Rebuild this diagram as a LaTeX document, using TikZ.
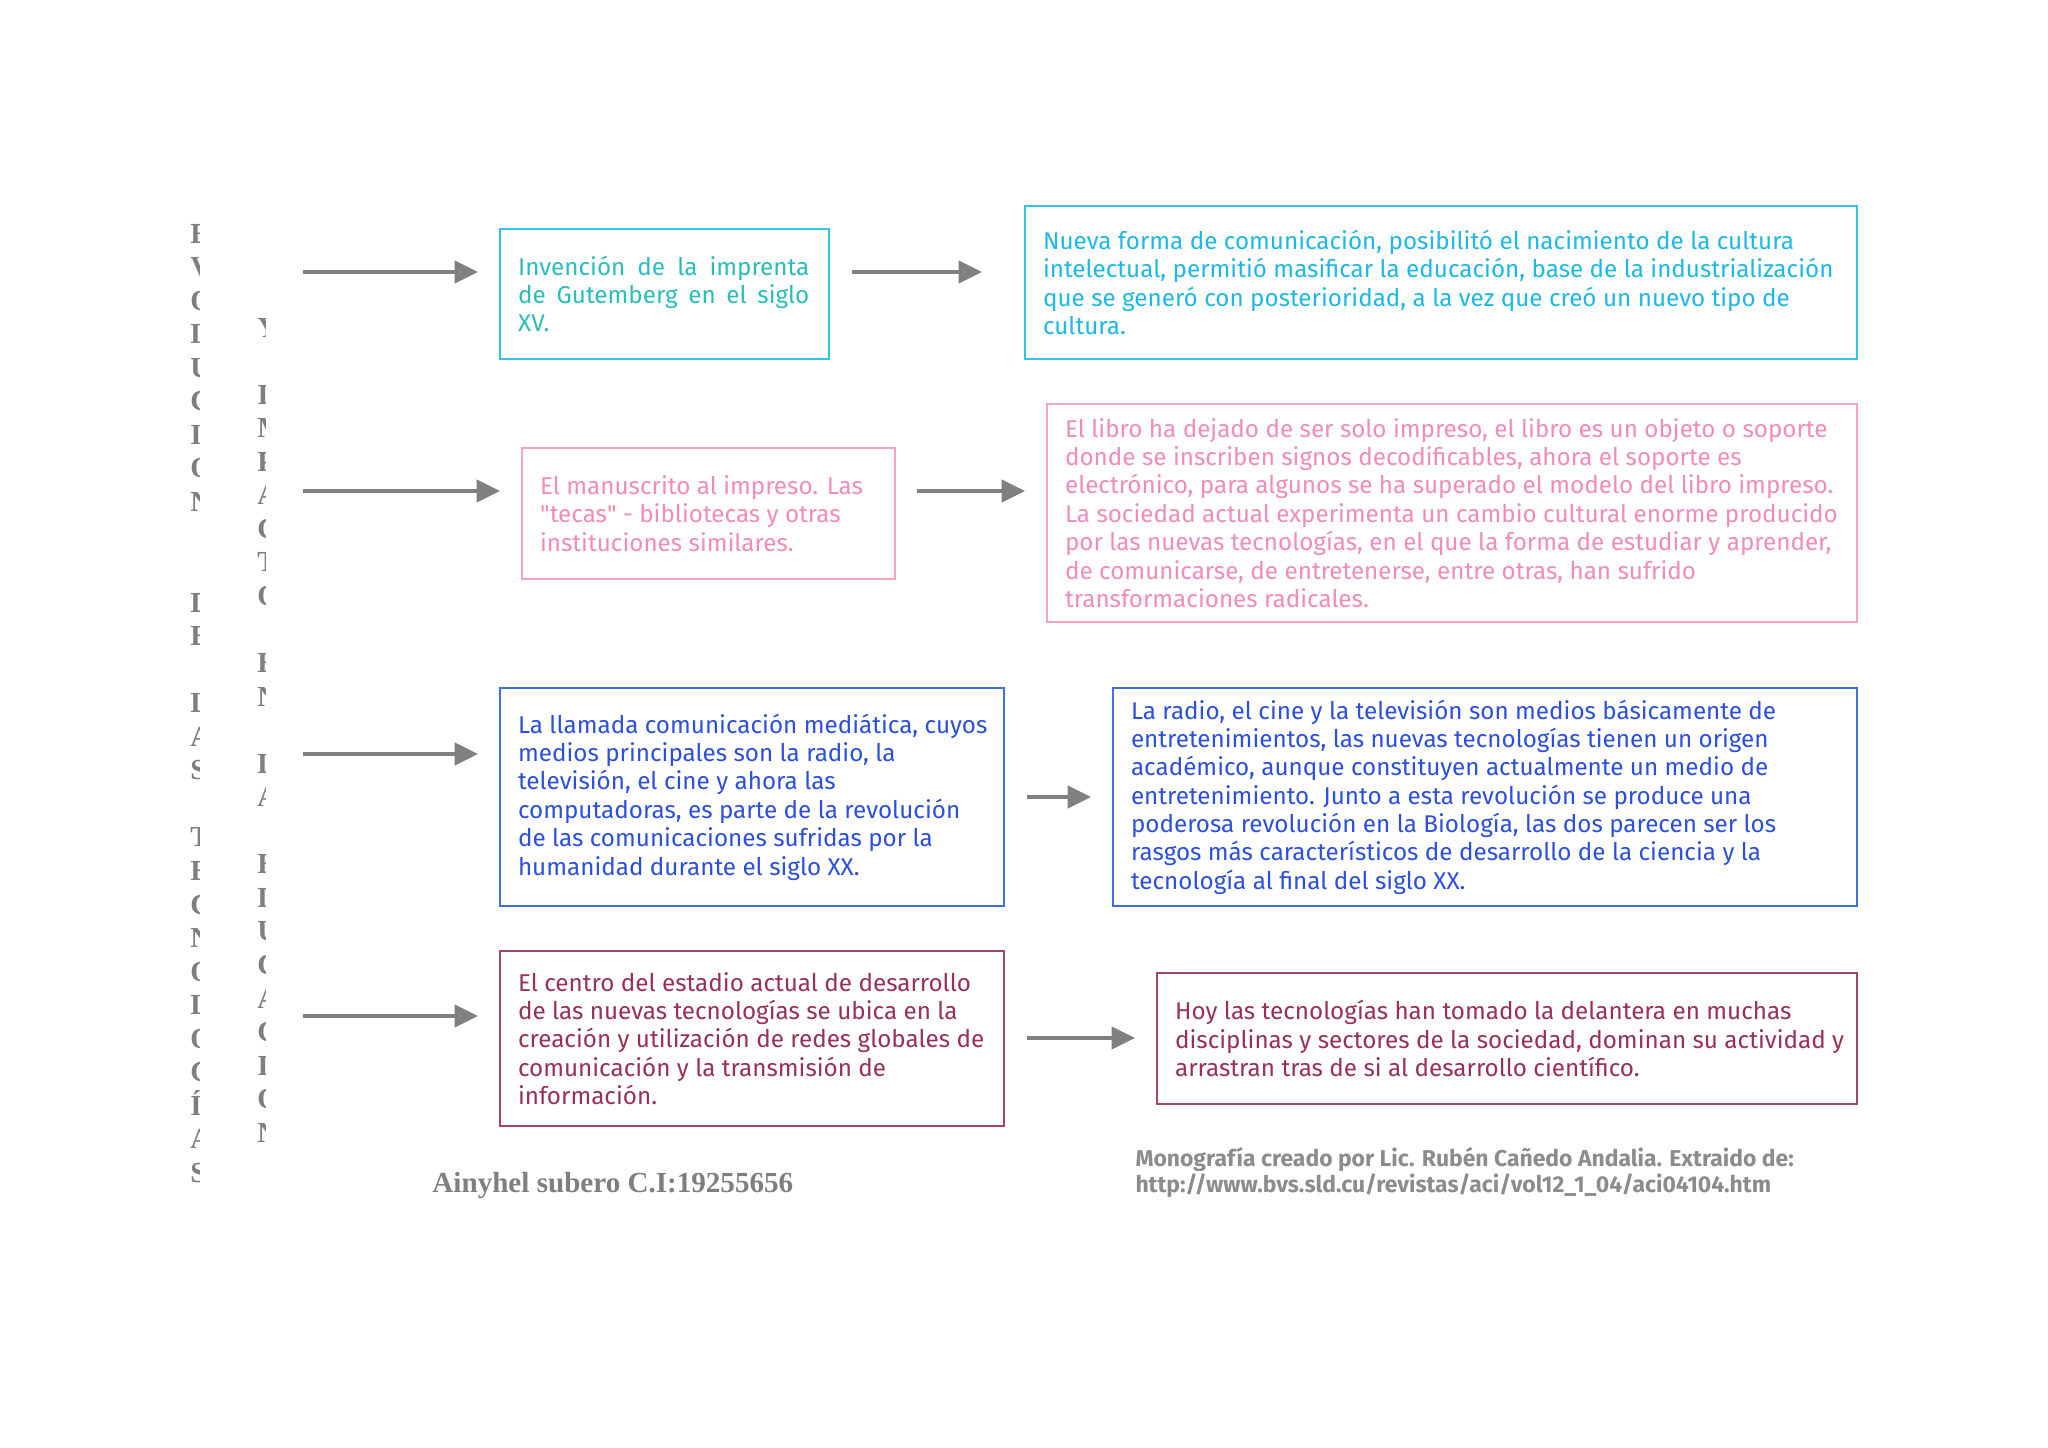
\documentclass[tikz,border=0pt]{standalone}
\usepackage{fontspec}
\setmainfont{Fira Sans}
\newfontfamily\fsq{Fira Sans}
\newfontfamily\tnr{Liberation Serif}
\usetikzlibrary{arrows.meta}
\definecolor{lgray}{HTML}{7F7F7F}
\definecolor{agray}{HTML}{808080}
\definecolor{fgray}{HTML}{8C8C8C}
\definecolor{cyanb}{HTML}{33C3E6}
\definecolor{cyant}{HTML}{2BBDBA}
\definecolor{cyant2}{HTML}{1EB8E6}
\definecolor{pinkb}{HTML}{F4A3C6}
\definecolor{pinkt}{HTML}{F08CBA}
\definecolor{blueb}{HTML}{3F6FE0}
\definecolor{bluet}{HTML}{2C4FDC}
\definecolor{maroonb}{HTML}{A3466F}
\definecolor{maroont}{HTML}{98305C}
\begin{document}
\begin{tikzpicture}[x=0.014502cm, y=-0.014502cm,
  letter/.style={font=\tnr\bfseries\fontsize{12}{14}\selectfont, text=lgray, anchor=base west, inner sep=0pt},
  boxframe/.style={draw=#1, line width=1pt, inner sep=0pt},
  boxtext/.style={text=#1, anchor=west, align=left, inner sep=0pt, font=\fontsize{10}{11.7}\selectfont},
  arr/.style={draw=agray, line width=1.35pt, -{Triangle[length=9.6pt,width=9.2pt]}}]
\useasboundingbox (0,0) rectangle (2048,1447);
\fill[white] (0,0) rectangle (2048,1447);

% clipped vertical titles
\begin{scope}
\clip (180,200) rectangle (199.5,1200);
\foreach \l/\k in {E/0,V/1,O/2,L/3,U/4,C/5,I/6,O/7,N/8,D/11,E/12,L/14,A/15,S/16,T/18,E/19,C/20,N/21,O/22,L/23,O/24,G/25,Í/26,A/27,S/28}
  \node[letter] (la\k) at (190, 243+33.55*\k) {\l};
\end{scope}
\begin{scope}
\clip (245,300) rectangle (265.7,1160);
\foreach \l/\k in {Y/0,I/2,M/3,P/4,A/5,C/6,T/7,O/8,E/10,N/11,L/13,A/14,E/16,D/17,U/18,C/19,A/20,C/21,I/22,O/23,N/24}
  \node[letter] (lb\k) at (257, 337+33.55*\k) {\l};
\end{scope}

% boxes
\node[boxframe=cyanb, minimum width=135.7pt, minimum height=53.6pt] (b1) at (664.5,294) {};
\node[boxframe=cyanb, minimum width=343.3pt, minimum height=63.1pt] (b2) at (1441,282.5) {};
\node[boxframe=pinkb, minimum width=153.9pt, minimum height=54.1pt] (b3) at (708.5,513.5) {};
\node[boxframe=pinkb, minimum width=334.2pt, minimum height=89.9pt] (b4) at (1452,513) {};
\node[boxframe=blueb, minimum width=208pt, minimum height=89.9pt] (b5) at (752,797) {};
\node[boxframe=blueb, minimum width=307pt, minimum height=89.9pt] (b6) at (1485,797) {};
\node[boxframe=maroonb, minimum width=208pt, minimum height=72.2pt] (b7) at (752,1038.5) {};
\node[boxframe=maroonb, minimum width=288.8pt, minimum height=54.1pt] (b8) at (1507,1038.5) {};

% texts
\node[boxtext=cyant] (t1) at ([xshift=7.8pt]b1.west) {\makebox[120.1pt][s]{Invención de la imprenta}\\\makebox[120.1pt][s]{de Gutemberg en el siglo}\\XV.};
\node[boxtext=cyant2] (t2) at ([xshift=7.8pt]b2.west) {Nueva forma de comunicación, posibilitó el nacimiento de la cultura\\intelectual, permitió masificar la educación, base de la industrialización\\que se generó con posterioridad, a la vez que creó un nuevo tipo de\\cultura.};
\node[boxtext=pinkt] (t3) at ([xshift=7.8pt]b3.west) {El manuscrito al impreso. Las\\{\fsq"}tecas{\fsq"} - bibliotecas y otras\\instituciones similares.};
\node[boxtext=pinkt] (t4) at ([xshift=7.8pt]b4.west) {El libro ha dejado de ser solo impreso, el libro es un objeto o soporte\\donde se inscriben signos decodificables, ahora el soporte es\\electrónico, para algunos se ha superado el modelo del libro impreso.\\La sociedad actual experimenta un cambio cultural enorme producido\\por las nuevas tecnologías, en el que la forma de estudiar y aprender,\\de comunicarse, de entretenerse, entre otras, han sufrido\\transformaciones radicales.};
\node[boxtext=bluet] (t5) at ([xshift=7.8pt]b5.west) {La llamada comunicación mediática, cuyos\\medios principales son la radio, la\\televisión, el cine y ahora las\\computadoras, es parte de la revolución\\de las comunicaciones sufridas por la\\humanidad durante el siglo XX.};
\node[boxtext=bluet] (t6) at ([xshift=7.8pt]b6.west) {La radio, el cine y la televisión son medios básicamente de\\entretenimientos, las nuevas tecnologías tienen un origen\\académico, aunque constituyen actualmente un medio de\\entretenimiento. Junto a esta revolución se produce una\\poderosa revolución en la Biología, las dos parecen ser los\\rasgos más característicos de desarrollo de la ciencia y la\\tecnología al final del siglo XX.};
\node[boxtext=maroont] (t7) at ([xshift=7.8pt]b7.west) {El centro del estadio actual de desarrollo\\de las nuevas tecnologías se ubica en la\\creación y utilización de redes globales de\\comunicación y la transmisión de\\información.};
\node[boxtext=maroont] (t8) at ([xshift=7.8pt]b8.west) {Hoy las tecnologías han tomado la delantera en muchas\\disciplinas y sectores de la sociedad, dominan su actividad y\\arrastran tras de si al desarrollo científico.};

% arrows
\coordinate (a1s) at (303,272); \coordinate (a1e) at (478,272);
\coordinate (a2s) at (852,272); \coordinate (a2e) at (982,272);
\coordinate (a3s) at (303,491); \coordinate (a3e) at (500,491);
\coordinate (a4s) at (917,491); \coordinate (a4e) at (1025,491);
\coordinate (a5s) at (303,754); \coordinate (a5e) at (478,754);
\coordinate (a6s) at (1027,797); \coordinate (a6e) at (1091,797);
\coordinate (a7s) at (303,1016); \coordinate (a7e) at (478,1016);
\coordinate (a8s) at (1027,1038); \coordinate (a8e) at (1135,1038);
\foreach \i in {1,...,8} \draw[arr] (a\i s) -- (a\i e);

% footer
\node[anchor=base west, inner sep=0pt, text=lgray, font=\tnr\bfseries\fontsize{12}{14}\selectfont] (auth) at (432,1192) {Ainyhel subero C.I:19255656};
\node[anchor=base west, inner sep=0pt, text=fgray, align=left, font=\bfseries\fontsize{9.45}{10.7}\selectfont] (src) at (1135,1192) {Monografía creado por Lic. Rubén Cañedo Andalia. Extraido de:\\http://www.bvs.sld.cu/revistas/aci/vol12\_1\_04/aci04104.htm};
\end{tikzpicture}
\end{document}
